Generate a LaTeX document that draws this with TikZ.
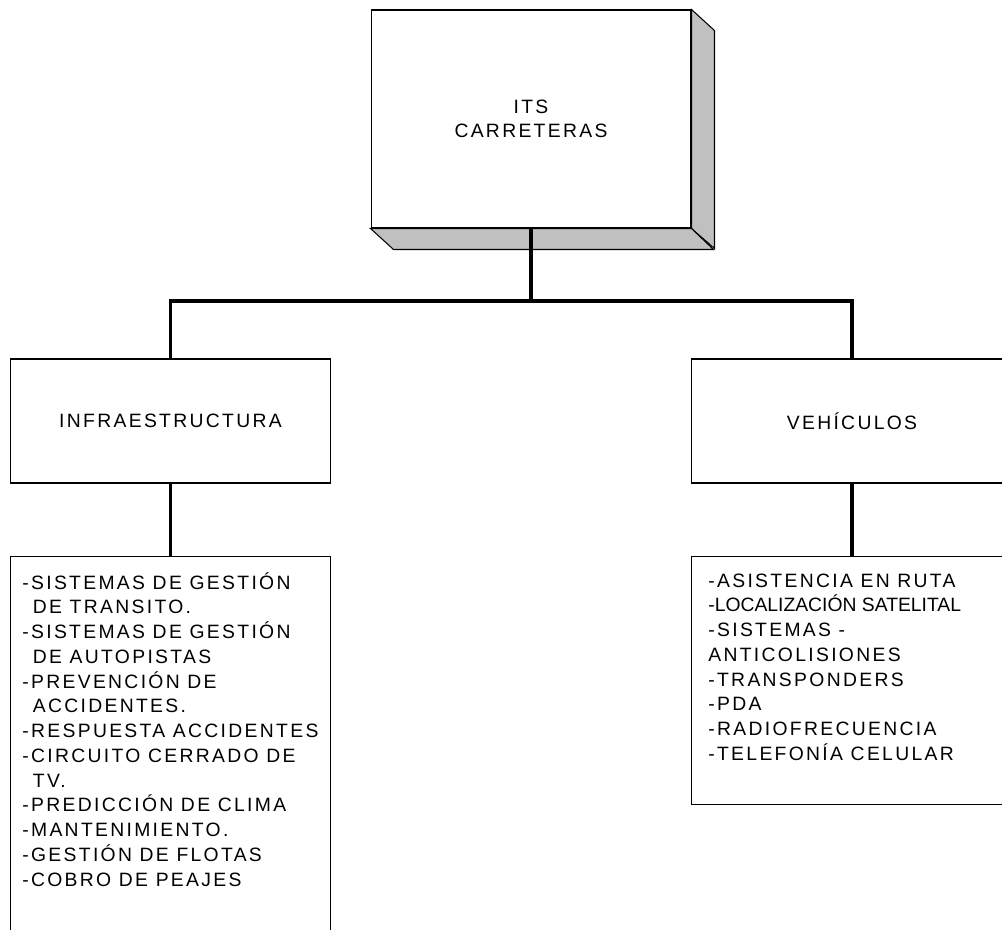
\documentclass[tikz,border=0pt]{standalone}
\usepackage{fontspec}
\newfontfamily\diagfont[LetterSpace=12]{Liberation Sans}
\newfontfamily\diagfonttight[LetterSpace=0]{Liberation Sans}
\definecolor{sidegray}{HTML}{C0C0C0}
\begin{document}
\begin{tikzpicture}[x=0.02cm,y=-0.02cm,
  box/.style={draw=black,line width=0.6pt,fill=white,inner sep=0pt},
  boxtext/.style={font=\diagfont\fontsize{11}{13.6}\selectfont,align=center},
  listtext/.style={font=\diagfont\fontsize{11}{14.1}\selectfont,inner sep=0pt,anchor=base west},
  link/.style={line width=2pt}]
\useasboundingbox (0,0) rectangle (1002,930);
\clip (0,0) rectangle (1002,930);
% caja principal con sombra
\node[box,boxtext,minimum width=6.4cm,minimum height=4.36cm] (its) at (531,119) {ITS\\CARRETERAS};
\filldraw[fill=sidegray,line width=0.6pt] (its.north east) -- ++(23,21) -- ++(0,218) -- (its.south east) -- cycle;
\filldraw[fill=sidegray,line width=0.6pt] (its.south west) -- ++(23,21) -- ++(320,0) -- (its.south east) -- cycle;
% ramas
\node[box,boxtext,minimum width=6.42cm,minimum height=2.48cm] (infra) at (170.5,421) {INFRAESTRUCTURA};
\node[box,boxtext,minimum width=6.42cm,minimum height=2.48cm] (vehic) at (852,421) {VEHÍCULOS};
\node[box,minimum width=6.42cm,minimum height=8cm,anchor=north] (infralist) at (170.5,556) {};
\node[box,minimum width=6.42cm,minimum height=4.96cm,anchor=north] (vehiclist) at (852,556) {};
% listas
\node[listtext] (infratext) at (22,589) {\begin{tabular}[t]{@{}l@{}}
-SISTEMAS DE GESTIÓN\\
\hspace{6pt}DE TRANSITO.\\
-SISTEMAS DE GESTIÓN\\
\hspace{6pt}DE AUTOPISTAS\\
-PREVENCIÓN DE\\
\hspace{6pt}ACCIDENTES.\\
-RESPUESTA ACCIDENTES\\
-CIRCUITO CERRADO DE\\
\hspace{6pt}TV.\\
-PREDICCIÓN DE CLIMA\\
-MANTENIMIENTO.\\
-GESTIÓN DE FLOTAS\\
-COBRO DE PEAJES
\end{tabular}};
\node[listtext] (vehictext) at (708,587) {\begin{tabular}[t]{@{}l@{}}
-ASISTENCIA EN RUTA\\
\diagfonttight -LOCALIZACIÓN SATELITAL\\
-SISTEMAS -\\
ANTICOLISIONES\\
-TRANSPONDERS\\
-PDA\\
-RADIOFRECUENCIA\\
-TELEFONÍA CELULAR
\end{tabular}};
% conectores
\coordinate (bus) at (531,301);
\draw[link] (its.south) -- (bus);
\draw[link] (infra.north) |- (bus) -| (vehic.north);
\draw[link] (infra.south) -- (infralist.north);
\draw[link] (vehic.south) -- (vehiclist.north);
\end{tikzpicture}
\end{document}
